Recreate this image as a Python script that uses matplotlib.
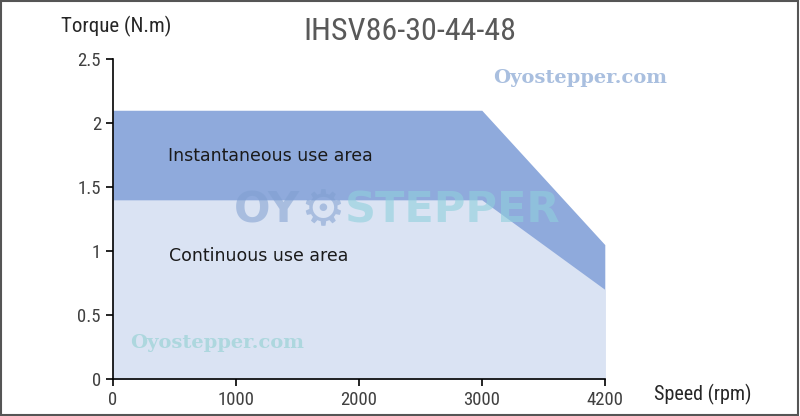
import matplotlib
matplotlib.use("Agg")
import matplotlib.pyplot as plt
from matplotlib.ticker import FuncFormatter
from matplotlib.patches import Rectangle
from matplotlib import font_manager

# Kennlinie IHSV86-30-44-48 (Excel-Kategorieachse: Drehzahlen gleichabständig)
speed_labels = ["0", "1000", "2000", "3000", "4200"]
torque_inst = [2.1, 2.1, 2.1, 2.1, 1.05]
torque_cont = [1.4, 1.4, 1.4, 1.4, 0.7]
y_ticks = [0, 0.5, 1, 1.5, 2, 2.5]

installed = {f.name for f in font_manager.fontManager.ttflist}
narrow = [f for f in ["Liberation Sans Narrow", "Roboto Condensed", "Open Sans Condensed",
                      "DejaVu Sans Condensed", "Lato"] if f in installed] or ["DejaVu Sans"]
narrow = narrow[:1] + ["DejaVu Sans"]

pos = list(range(len(speed_labels)))

fig = plt.figure(figsize=(8, 4.16), dpi=100)
ax = fig.add_axes([0.141, 0.089, 0.615, 0.769])

ax.fill_between(pos, 0, torque_inst, color="#8faadc", linewidth=0)
ax.fill_between(pos, 0, torque_cont, color="#dae3f3", linewidth=0)

ax.set_xlim(0, len(pos) - 1)
ax.set_ylim(0, 2.5)
ax.set_xticks(pos)
ax.set_xticklabels(speed_labels)
ax.set_yticks(y_ticks)
ax.yaxis.set_major_formatter(FuncFormatter(lambda v, p: f"{v:g}"))
for s in ["top", "right"]:
    ax.spines[s].set_visible(False)
for s in ["left", "bottom"]:
    ax.spines[s].set_color("black")
    ax.spines[s].set_linewidth(1.2)
ax.tick_params(length=5, width=1.2, colors="black", labelcolor="#404040", labelsize=13.5)
for lab in ax.get_xticklabels() + ax.get_yticklabels():
    lab.set_family(narrow)

# Beschriftungen der Flächen
ax.text(0.45, 1.74, "Instantaneous use area", fontsize=12.5, color="#1a1a1a", va="center")
ax.text(0.46, 0.96, "Continuous use area", fontsize=12.5, color="#1a1a1a", va="center")

# Wasserzeichen
fig.text(0.725, 0.812, "Oyostepper.com", family="DejaVu Serif", weight="bold",
         fontsize=14, color="#a9bfdf", ha="center", va="center")
fig.text(0.272, 0.175, "Oyostepper.com", family="DejaVu Serif", weight="bold",
         fontsize=14, color="#a8d6dc", ha="center", va="center", alpha=0.9)
fig.text(0.375, 0.495, "OY", weight="bold", fontsize=31, color="#7f9fd0",
         ha="right", va="center", alpha=0.55)
fig.text(0.403, 0.495, "\u2699", fontsize=36, color="#7f9fd0",
         ha="center", va="center", alpha=0.55, family=["DejaVu Sans"])
fig.text(0.431, 0.495, "STEPPER", weight="bold", fontsize=31, color="#8fd0dc",
         ha="left", va="center", alpha=0.6)

# Titel und Achsentitel
fig.text(0.512, 0.925, "IHSV86-30-44-48", family=narrow, fontsize=23,
         color="#595959", ha="center", va="center")
fig.text(0.145, 0.937, "Torque (N.m)", family=narrow, fontsize=15,
         color="#262626", ha="center", va="center")
fig.text(0.879, 0.052, "Speed (rpm)", family=narrow, fontsize=14.5,
         color="#262626", ha="center", va="center")

# Rahmen
fig.patches.append(Rectangle((0.001, 0.002), 0.997, 0.995, transform=fig.transFigure,
                             fill=False, edgecolor="#555555", linewidth=1.5))

plt.savefig("out.png", dpi=100)
